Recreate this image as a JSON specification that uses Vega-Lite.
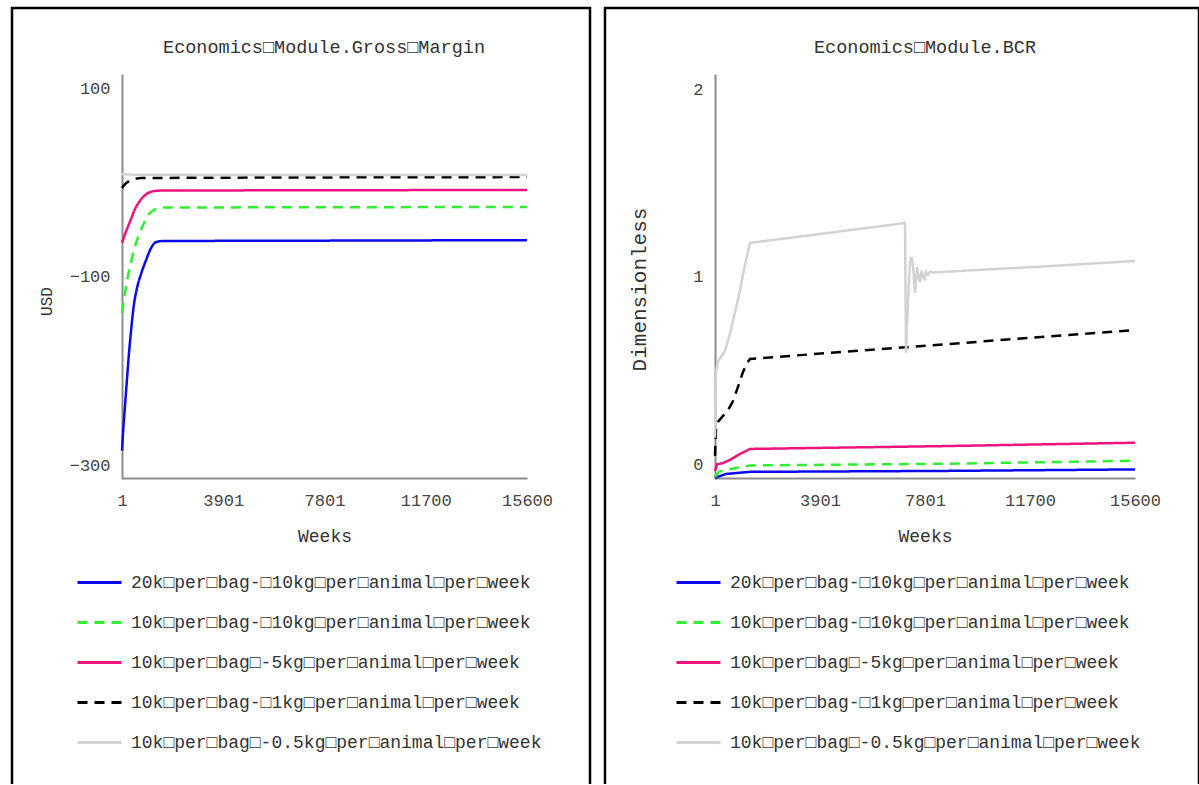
{
  "$schema": "https://vega.github.io/schema/vega-lite/v6.json",
  "background": "white",
  "padding": {"left": 10, "top": 6, "right": 0, "bottom": -6},
  "spacing": 11,
  "config": {
    "view": {"stroke": "#000000", "strokeWidth": 2.5},
    "font": "Liberation Mono",
    "axis": {
      "grid": false, "ticks": false, "tickSize": 0,
      "domainColor": "#8c8c8c", "domainWidth": 2,
      "labelFont": "Liberation Mono", "labelFontSize": 17, "labelColor": "#444444",
      "titleFont": "Liberation Mono", "titleFontSize": 18, "titleColor": "#333333", "titleFontWeight": "normal",
      "labelFlush": false, "labelOverlap": false, "labelBound": false
    },
    "legend": {
      "title": null, "orient": "none", "direction": "vertical",
      "symbolType": "stroke", "symbolStrokeWidth": 3, "symbolSize": 1936,
      "labelFont": "Liberation Mono", "labelFontSize": 18, "labelColor": "#333333",
      "labelOffset": 8, "rowPadding": 7, "labelLimit": 700
    },
    "title": {"font": "Liberation Mono", "fontSize": 18.5, "fontWeight": "normal", "color": "#333333"}
  },
  "resolve": {
    "scale": {"color": "independent", "strokeDash": "independent"},
    "legend": {"color": "independent", "strokeDash": "independent"}
  },
  "datasets": {
    "gm": [
      {"series": "20k□per□bag-□10kg□per□animal□per□week", "week": 1, "value": -284.1},
      {"series": "20k□per□bag-□10kg□per□animal□per□week", "week": 40, "value": -265.1},
      {"series": "20k□per□bag-□10kg□per□animal□per□week", "week": 117, "value": -236.5},
      {"series": "20k□per□bag-□10kg□per□animal□per□week", "week": 194, "value": -207.9},
      {"series": "20k□per□bag-□10kg□per□animal□per□week", "week": 271, "value": -180.4},
      {"series": "20k□per□bag-□10kg□per□animal□per□week", "week": 349, "value": -157.1},
      {"series": "20k□per□bag-□10kg□per□animal□per□week", "week": 464, "value": -128.6},
      {"series": "20k□per□bag-□10kg□per□animal□per□week", "week": 580, "value": -111.6},
      {"series": "20k□per□bag-□10kg□per□animal□per□week", "week": 735, "value": -96.8},
      {"series": "20k□per□bag-□10kg□per□animal□per□week", "week": 928, "value": -82.0},
      {"series": "20k□per□bag-□10kg□per□animal□per□week", "week": 1121, "value": -69.3},
      {"series": "20k□per□bag-□10kg□per□animal□per□week", "week": 1314, "value": -63.0},
      {"series": "20k□per□bag-□10kg□per□animal□per□week", "week": 1507, "value": -62.0},
      {"series": "20k□per□bag-□10kg□per□animal□per□week", "week": 8000, "value": -61.5},
      {"series": "20k□per□bag-□10kg□per□animal□per□week", "week": 15600, "value": -61.0},
      {"series": "10k□per□bag-□10kg□per□animal□per□week", "week": 1, "value": -138.1},
      {"series": "10k□per□bag-□10kg□per□animal□per□week", "week": 40, "value": -130.7},
      {"series": "10k□per□bag-□10kg□per□animal□per□week", "week": 117, "value": -116.9},
      {"series": "10k□per□bag-□10kg□per□animal□per□week", "week": 194, "value": -104.2},
      {"series": "10k□per□bag-□10kg□per□animal□per□week", "week": 271, "value": -93.7},
      {"series": "10k□per□bag-□10kg□per□animal□per□week", "week": 349, "value": -84.1},
      {"series": "10k□per□bag-□10kg□per□animal□per□week", "week": 464, "value": -71.4},
      {"series": "10k□per□bag-□10kg□per□animal□per□week", "week": 580, "value": -60.8},
      {"series": "10k□per□bag-□10kg□per□animal□per□week", "week": 696, "value": -52.4},
      {"series": "10k□per□bag-□10kg□per□animal□per□week", "week": 851, "value": -42.9},
      {"series": "10k□per□bag-□10kg□per□animal□per□week", "week": 1044, "value": -33.3},
      {"series": "10k□per□bag-□10kg□per□animal□per□week", "week": 1237, "value": -29.1},
      {"series": "10k□per□bag-□10kg□per□animal□per□week", "week": 1507, "value": -26.5},
      {"series": "10k□per□bag-□10kg□per□animal□per□week", "week": 15600, "value": -25.9},
      {"series": "10k□per□bag□-5kg□per□animal□per□week", "week": 1, "value": -64.0},
      {"series": "10k□per□bag□-5kg□per□animal□per□week", "week": 78, "value": -57.7},
      {"series": "10k□per□bag□-5kg□per□animal□per□week", "week": 194, "value": -49.2},
      {"series": "10k□per□bag□-5kg□per□animal□per□week", "week": 349, "value": -38.6},
      {"series": "10k□per□bag□-5kg□per□animal□per□week", "week": 503, "value": -28.0},
      {"series": "10k□per□bag□-5kg□per□animal□per□week", "week": 658, "value": -20.6},
      {"series": "10k□per□bag□-5kg□per□animal□per□week", "week": 812, "value": -15.3},
      {"series": "10k□per□bag□-5kg□per□animal□per□week", "week": 1005, "value": -11.1},
      {"series": "10k□per□bag□-5kg□per□animal□per□week", "week": 1237, "value": -9.0},
      {"series": "10k□per□bag□-5kg□per□animal□per□week", "week": 1507, "value": -8.5},
      {"series": "10k□per□bag□-5kg□per□animal□per□week", "week": 15600, "value": -7.9},
      {"series": "10k□per□bag-□1kg□per□animal□per□week", "week": 1, "value": -5.8},
      {"series": "10k□per□bag-□1kg□per□animal□per□week", "week": 117, "value": -1.6},
      {"series": "10k□per□bag-□1kg□per□animal□per□week", "week": 271, "value": 1.6},
      {"series": "10k□per□bag-□1kg□per□animal□per□week", "week": 464, "value": 3.7},
      {"series": "10k□per□bag-□1kg□per□animal□per□week", "week": 735, "value": 4.8},
      {"series": "10k□per□bag-□1kg□per□animal□per□week", "week": 15600, "value": 5.8},
      {"series": "10k□per□bag□-0.5kg□per□animal□per□week", "week": 1, "value": 9.0},
      {"series": "10k□per□bag□-0.5kg□per□animal□per□week", "week": 500, "value": 8.2},
      {"series": "10k□per□bag□-0.5kg□per□animal□per□week", "week": 15600, "value": 8.0}
    ],
    "bcr": [
      {"series": "20k□per□bag-□10kg□per□animal□per□week", "week": 1, "value": -0.069},
      {"series": "20k□per□bag-□10kg□per□animal□per□week", "week": 410, "value": -0.048},
      {"series": "20k□per□bag-□10kg□per□animal□per□week", "week": 1301, "value": -0.037},
      {"series": "20k□per□bag-□10kg□per□animal□per□week", "week": 8469, "value": -0.032},
      {"series": "20k□per□bag-□10kg□per□animal□per□week", "week": 15600, "value": -0.024},
      {"series": "10k□per□bag-□10kg□per□animal□per□week", "week": 1, "value": -0.064},
      {"series": "10k□per□bag-□10kg□per□animal□per□week", "week": 149, "value": -0.037},
      {"series": "10k□per□bag-□10kg□per□animal□per□week", "week": 372, "value": -0.027},
      {"series": "10k□per□bag-□10kg□per□animal□per□week", "week": 781, "value": -0.016},
      {"series": "10k□per□bag-□10kg□per□animal□per□week", "week": 1301, "value": -0.003},
      {"series": "10k□per□bag-□10kg□per□animal□per□week", "week": 8469, "value": 0.006},
      {"series": "10k□per□bag-□10kg□per□animal□per□week", "week": 15600, "value": 0.022},
      {"series": "10k□per□bag□-5kg□per□animal□per□week", "week": 1, "value": -0.032},
      {"series": "10k□per□bag□-5kg□per□animal□per□week", "week": 75, "value": 0.003},
      {"series": "10k□per□bag□-5kg□per□animal□per□week", "week": 298, "value": 0.01},
      {"series": "10k□per□bag□-5kg□per□animal□per□week", "week": 558, "value": 0.027},
      {"series": "10k□per□bag□-5kg□per□animal□per□week", "week": 930, "value": 0.058},
      {"series": "10k□per□bag□-5kg□per□animal□per□week", "week": 1301, "value": 0.085},
      {"series": "10k□per□bag□-5kg□per□animal□per□week", "week": 8469, "value": 0.1},
      {"series": "10k□per□bag□-5kg□per□animal□per□week", "week": 15600, "value": 0.118},
      {"series": "10k□per□bag-□1kg□per□animal□per□week", "week": 1, "value": 0.048},
      {"series": "10k□per□bag-□1kg□per□animal□per□week", "week": 38, "value": 0.191},
      {"series": "10k□per□bag-□1kg□per□animal□per□week", "week": 112, "value": 0.229},
      {"series": "10k□per□bag-□1kg□per□animal□per□week", "week": 298, "value": 0.261},
      {"series": "10k□per□bag-□1kg□per□animal□per□week", "week": 447, "value": 0.282},
      {"series": "10k□per□bag-□1kg□per□animal□per□week", "week": 669, "value": 0.34},
      {"series": "10k□per□bag-□1kg□per□animal□per□week", "week": 855, "value": 0.415},
      {"series": "10k□per□bag-□1kg□per□animal□per□week", "week": 1041, "value": 0.495},
      {"series": "10k□per□bag-□1kg□per□animal□per□week", "week": 1190, "value": 0.543},
      {"series": "10k□per□bag-□1kg□per□animal□per□week", "week": 1301, "value": 0.564},
      {"series": "10k□per□bag-□1kg□per□animal□per□week", "week": 15600, "value": 0.718},
      {"series": "10k□per□bag□-0.5kg□per□animal□per□week", "week": 1, "value": 0.144},
      {"series": "10k□per□bag□-0.5kg□per□animal□per□week", "week": 38, "value": 0.5},
      {"series": "10k□per□bag□-0.5kg□per□animal□per□week", "week": 112, "value": 0.553},
      {"series": "10k□per□bag□-0.5kg□per□animal□per□week", "week": 187, "value": 0.569},
      {"series": "10k□per□bag□-0.5kg□per□animal□per□week", "week": 372, "value": 0.606},
      {"series": "10k□per□bag□-0.5kg□per□animal□per□week", "week": 558, "value": 0.697},
      {"series": "10k□per□bag□-0.5kg□per□animal□per□week", "week": 669, "value": 0.766},
      {"series": "10k□per□bag□-0.5kg□per□animal□per□week", "week": 781, "value": 0.835},
      {"series": "10k□per□bag□-0.5kg□per□animal□per□week", "week": 930, "value": 0.926},
      {"series": "10k□per□bag□-0.5kg□per□animal□per□week", "week": 1041, "value": 1.016},
      {"series": "10k□per□bag□-0.5kg□per□animal□per□week", "week": 1190, "value": 1.112},
      {"series": "10k□per□bag□-0.5kg□per□animal□per□week", "week": 1301, "value": 1.181},
      {"series": "10k□per□bag□-0.5kg□per□animal□per□week", "week": 7058, "value": 1.287},
      {"series": "10k□per□bag□-0.5kg□per□animal□per□week", "week": 7095, "value": 0.596},
      {"series": "10k□per□bag□-0.5kg□per□animal□per□week", "week": 7169, "value": 0.872},
      {"series": "10k□per□bag□-0.5kg□per□animal□per□week", "week": 7243, "value": 1.074},
      {"series": "10k□per□bag□-0.5kg□per□animal□per□week", "week": 7299, "value": 1.106},
      {"series": "10k□per□bag□-0.5kg□per□animal□per□week", "week": 7355, "value": 1.059},
      {"series": "10k□per□bag□-0.5kg□per□animal□per□week", "week": 7429, "value": 0.915},
      {"series": "10k□per□bag□-0.5kg□per□animal□per□week", "week": 7466, "value": 0.979},
      {"series": "10k□per□bag□-0.5kg□per□animal□per□week", "week": 7503, "value": 1.053},
      {"series": "10k□per□bag□-0.5kg□per□animal□per□week", "week": 7559, "value": 1.0},
      {"series": "10k□per□bag□-0.5kg□per□animal□per□week", "week": 7615, "value": 0.973},
      {"series": "10k□per□bag□-0.5kg□per□animal□per□week", "week": 7670, "value": 1.032},
      {"series": "10k□per□bag□-0.5kg□per□animal□per□week", "week": 7726, "value": 1.005},
      {"series": "10k□per□bag□-0.5kg□per□animal□per□week", "week": 7782, "value": 0.989},
      {"series": "10k□per□bag□-0.5kg□per□animal□per□week", "week": 7838, "value": 1.027},
      {"series": "10k□per□bag□-0.5kg□per□animal□per□week", "week": 7912, "value": 1.011},
      {"series": "10k□per□bag□-0.5kg□per□animal□per□week", "week": 7986, "value": 1.027},
      {"series": "10k□per□bag□-0.5kg□per□animal□per□week", "week": 8097, "value": 1.024},
      {"series": "10k□per□bag□-0.5kg□per□animal□per□week", "week": 12555, "value": 1.059},
      {"series": "10k□per□bag□-0.5kg□per□animal□per□week", "week": 15600, "value": 1.085}
    ]
  },
  "hconcat": [
    {
      "width": 578,
      "height": 780,
      "title": {"text": "Economics□Module.Gross□Margin", "anchor": "middle", "offset": -48, "dx": 23},
      "data": {"name": "gm"},
      "mark": {"type": "line", "strokeWidth": 2.5, "interpolate": "monotone"},
      "encoding": {
        "x": {
          "field": "week", "type": "quantitative",
          "scale": {"domain": [1, 15600], "range": [110, 515], "nice": false, "zero": false},
          "axis": {"values": [1, 3901, 7801, 11700, 15600], "format": "d", "offset": -310, "title": "Weeks", "labelPadding": 14, "titlePadding": 19}
        },
        "y": {
          "field": "value", "type": "quantitative",
          "scale": {"domain": [-314, 115], "range": [471, 66], "nice": false, "zero": false},
          "axis": {"values": [-300, -100, 100], "offset": -110, "title": "USD", "titleFontSize": 16, "labelPadding": 12, "titleX": -76, "titleY": 293, "titleAngle": 270, "titleBaseline": "middle", "titleAlign": "center"}
        },
        "color": {
          "field": "series", "type": "nominal",
          "scale": {
            "domain": ["20k□per□bag-□10kg□per□animal□per□week", "10k□per□bag-□10kg□per□animal□per□week", "10k□per□bag□-5kg□per□animal□per□week", "10k□per□bag-□1kg□per□animal□per□week", "10k□per□bag□-0.5kg□per□animal□per□week"],
            "range": ["#0a0aee", "#2ef02e", "#ee1480", "#000000", "#d2d2d2"]
          },
          "legend": {"orient": "none", "legendX": 64, "legendY": 551}
        },
        "strokeDash": {
          "field": "series", "type": "nominal",
          "scale": {
            "domain": ["20k□per□bag-□10kg□per□animal□per□week", "10k□per□bag-□10kg□per□animal□per□week", "10k□per□bag□-5kg□per□animal□per□week", "10k□per□bag-□1kg□per□animal□per□week", "10k□per□bag□-0.5kg□per□animal□per□week"],
            "range": [[1, 0], [10, 7], [1, 0], [10, 7], [1, 0]]
          },
          "legend": {"orient": "none", "legendX": 64, "legendY": 551}
        }
      }
    },
    {
      "width": 594,
      "height": 780,
      "title": {"text": "Economics□Module.BCR", "anchor": "middle", "offset": -48, "dx": 23},
      "data": {"name": "bcr"},
      "mark": {"type": "line", "strokeWidth": 2.5, "interpolate": "linear"},
      "encoding": {
        "x": {
          "field": "week", "type": "quantitative",
          "scale": {"domain": [1, 15600], "range": [110, 530], "nice": false, "zero": false},
          "axis": {"values": [1, 3901, 7801, 11700, 15600], "format": "d", "offset": -310, "title": "Weeks", "labelPadding": 14, "titlePadding": 19}
        },
        "y": {
          "field": "value", "type": "quantitative",
          "scale": {"domain": [-0.075, 2.08], "range": [471, 66], "nice": false, "zero": false},
          "axis": {"values": [0, 1, 2], "offset": -110, "title": "Dimensionless", "titleFontSize": 21, "labelPadding": 12, "titleX": -76, "titleY": 281, "titleAngle": 270, "titleBaseline": "middle", "titleAlign": "center"}
        },
        "color": {
          "field": "series", "type": "nominal",
          "scale": {
            "domain": ["20k□per□bag-□10kg□per□animal□per□week", "10k□per□bag-□10kg□per□animal□per□week", "10k□per□bag□-5kg□per□animal□per□week", "10k□per□bag-□1kg□per□animal□per□week", "10k□per□bag□-0.5kg□per□animal□per□week"],
            "range": ["#0a0aee", "#2ef02e", "#ee1480", "#000000", "#d2d2d2"]
          },
          "legend": {"orient": "none", "legendX": 70, "legendY": 551}
        },
        "strokeDash": {
          "field": "series", "type": "nominal",
          "scale": {
            "domain": ["20k□per□bag-□10kg□per□animal□per□week", "10k□per□bag-□10kg□per□animal□per□week", "10k□per□bag□-5kg□per□animal□per□week", "10k□per□bag-□1kg□per□animal□per□week", "10k□per□bag□-0.5kg□per□animal□per□week"],
            "range": [[1, 0], [10, 7], [1, 0], [10, 7], [1, 0]]
          },
          "legend": {"orient": "none", "legendX": 70, "legendY": 551}
        }
      }
    }
  ]
}
